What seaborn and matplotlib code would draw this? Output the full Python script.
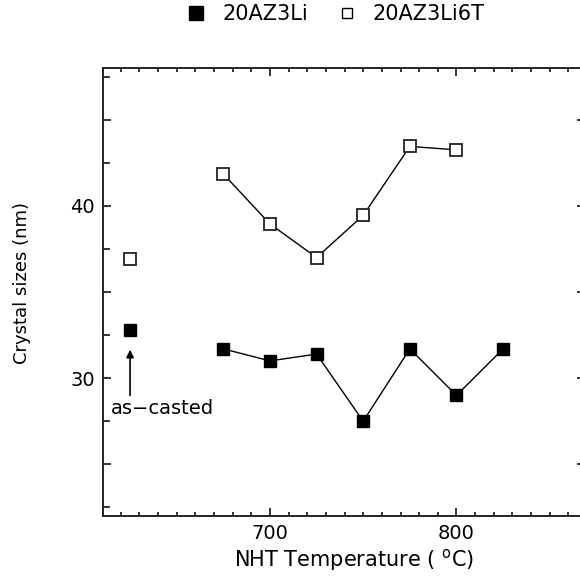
import numpy as np
import pandas as pd
import matplotlib
matplotlib.use("Agg")
import matplotlib.pyplot as plt
from matplotlib.lines import Line2D
from matplotlib.ticker import MultipleLocator, FixedLocator, FuncFormatter
import seaborn as sns

# data
as_cast_temp = 625
temps = [675, 700, 725, 750, 775, 800, 825]
li = [31.7, 31.0, 31.4, 27.5, 31.7, 29.0, 31.7]
li_cast = 32.8
temps_6t = [675, 700, 725, 750, 775, 800]
li6t = [41.85, 38.95, 37.0, 39.45, 43.45, 43.25]
li6t_cast = 36.9

sns.set_theme(style="ticks")
plt.rcParams['font.family'] = ['DejaVu Sans']
plt.rcParams['text.color'] = 'black'
plt.rcParams['axes.labelcolor'] = 'black'

fig = plt.figure(figsize=(5.8, 5.88), dpi=100)
ax = fig.add_axes([103 / 580, 72 / 588, 482 / 580, 448 / 588])

df1 = pd.DataFrame({'T': temps, 'size': li})
df2 = pd.DataFrame({'T': temps_6t, 'size': li6t})

sns.lineplot(data=df1, x='T', y='size', ax=ax, color='black', lw=1,
             marker='s', markersize=9, markerfacecolor='black',
             markeredgecolor='black', markeredgewidth=1)
sns.lineplot(data=df2, x='T', y='size', ax=ax, color='black', lw=1,
             marker='s', markersize=9, markerfacecolor='white',
             markeredgecolor='#222222', markeredgewidth=1.3)
ax.plot([as_cast_temp], [li_cast], 's', ms=9, mfc='black', mec='black')
ax.plot([as_cast_temp], [li6t_cast], 's', ms=9, mfc='white', mec='#222222', mew=1.3)

# as-casted note
ax.annotate('', xy=(as_cast_temp, 31.65), xytext=(as_cast_temp, 29.0),
            arrowprops=dict(arrowstyle='-|>', color='black', lw=1.2,
                            mutation_scale=11, shrinkA=0, shrinkB=0))
ax.text(642.5, 28.25, 'as\u2212casted', ha='center', va='center', fontsize=14)

ax.set_xlim(610.5, 868.9)
ax.set_ylim(22, 48)
ax.xaxis.set_major_locator(FixedLocator([700, 800]))
ax.xaxis.set_minor_locator(MultipleLocator(10))
ax.yaxis.set_major_locator(MultipleLocator(5))
ax.yaxis.set_minor_locator(MultipleLocator(2.5))
ax.yaxis.set_major_formatter(FuncFormatter(lambda v, p: f'{v:.0f}' if v in (30, 40) else ''))
ax.tick_params(which='both', direction='in', top=True, right=True, colors='black',
               labelsize=14)
ax.tick_params(which='minor', right=False)
ax.tick_params(which='major', length=5.5, width=1.1, pad=6)
ax.tick_params(which='minor', length=3, width=1.1)
ax.tick_params(axis='y', which='minor', length=5)
for s in ax.spines.values():
    s.set_linewidth(1.4)
    s.set_color('#222222')

ax.set_xlabel('NHT Temperature ( $^{\\rm o}$C)', fontsize=15)
ax.set_ylabel('Crystal sizes (nm)', fontsize=13)
ax.xaxis.set_label_coords(0.522, -0.07)
ax.yaxis.set_label_coords(-0.15, 0.52)

handles = [
    Line2D([], [], ls='none', marker='s', ms=9.5, mfc='black', mec='black'),
    Line2D([], [], ls='none', marker='s', ms=7, mfc='white', mec='black', mew=1),
]
fig.legend(handles, ['20AZ3Li', '20AZ3Li6T'], loc='center left',
           bbox_to_anchor=(186 / 580, 1 - 14 / 588), ncol=2, frameon=False,
           fontsize=15, handletextpad=0.75, columnspacing=1.35, handlelength=1.0,
           borderpad=0, borderaxespad=0)

fig.savefig('out.png', dpi=100)
